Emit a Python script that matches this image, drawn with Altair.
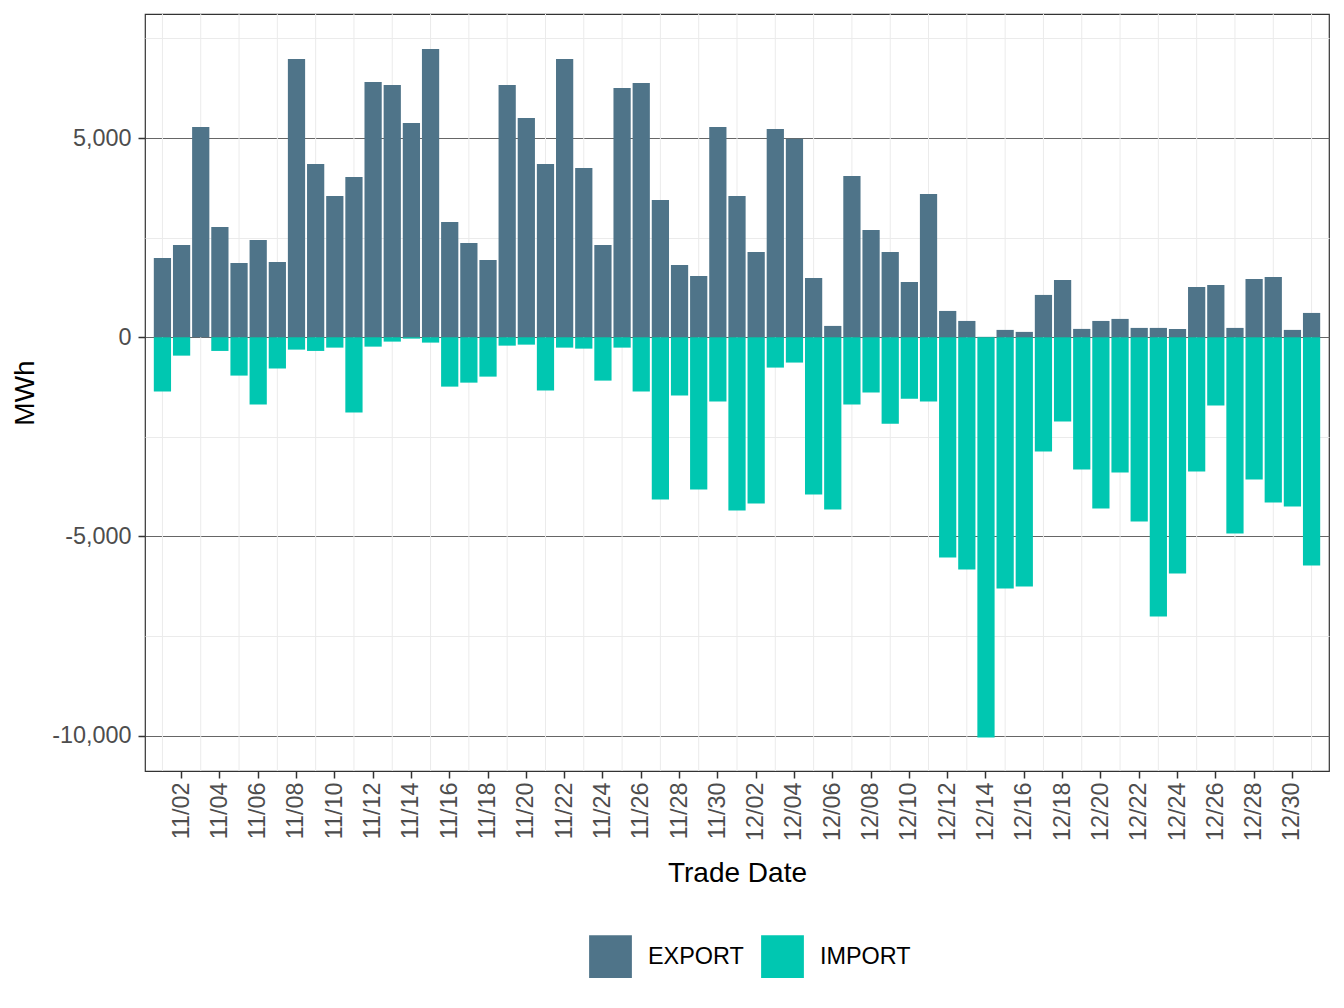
import altair as alt
import pandas as pd

dates = ["11/01", "11/02", "11/03", "11/04", "11/05", "11/06", "11/07", "11/08", "11/09", "11/10",
         "11/11", "11/12", "11/13", "11/14", "11/15", "11/16", "11/17", "11/18", "11/19", "11/20",
         "11/21", "11/22", "11/23", "11/24", "11/25", "11/26", "11/27", "11/28", "11/29", "11/30",
         "12/01", "12/02", "12/03", "12/04", "12/05", "12/06", "12/07", "12/08", "12/09", "12/10",
         "12/11", "12/12", "12/13", "12/14", "12/15", "12/16", "12/17", "12/18", "12/19", "12/20",
         "12/21", "12/22", "12/23", "12/24", "12/25", "12/26", "12/27", "12/28", "12/29", "12/30",
         "12/31"]

export_mwh = [1990, 2317, 5279, 2769, 1865, 2442, 1890, 6985, 4350, 3547,
              4024, 6408, 6333, 5379, 7236, 2894, 2367, 1940, 6333, 5504,
              4350, 6985, 4249, 2317, 6258, 6383, 3446, 1815, 1539, 5279,
              3547, 2141, 5228, 4985, 1488, 284, 4049, 2693, 2141, 1388,
              3597, 660, 409, 10, 184, 134, 1062, 1439, 209, 409,
              460, 234, 234, 209, 1263, 1313, 234, 1464, 1514, 184,
              610]

import_mwh = [-1365, -462, 0, -344, -963, -1691, -788, -311, -344, -261,
              -1892, -236, -110, -35, -135, -1240, -1140, -989, -211, -186,
              -1340, -261, -286, -1089, -261, -1365, -4074, -1464, -3824, -1615,
              -4351, -4175, -762, -636, -3949, -4326, -1690, -1389, -2169, -1545,
              -1615, -5530, -5831, -10048, -6308, -6258, -2870, -2117, -3321, -4300,
              -3397, -4627, -7011, -5932, -3372, -1715, -4928, -3573, -4150, -4250,
              -5731]

tick_labels = dates[1::2]
grid_values = [-10000, -7500, -5000, -2500, 0, 2500, 5000, 7500]

rows = []
for d, e, i in zip(dates, export_mwh, import_mwh):
    rows.append({"date": d, "type": "EXPORT", "value": e})
    rows.append({"date": d, "type": "IMPORT", "value": i})
df = pd.DataFrame(rows)
dates_df = pd.DataFrame({"date": dates})

font = "Liberation Sans"
tick_fs = 23.4

xscale = alt.Scale(domain=dates, paddingInner=0.1, paddingOuter=0.46)

vgrid = alt.Chart(dates_df).transform_filter(
    "toNumber(substring(datum.date, 3, 5)) % 2 == 1"
).mark_rule(color="#ebebeb", strokeWidth=1).encode(
    x=alt.X("date:N", scale=xscale, sort=dates)
)

bars = alt.Chart(df).mark_bar(opacity=1).encode(
    x=alt.X("date:N", scale=xscale, sort=dates,
            axis=alt.Axis(values=tick_labels, title="Trade Date", labelAngle=270,
                          labelFontSize=tick_fs, labelColor="#4d4d4d", labelFont=font,
                          titleFontSize=28, titleFont=font, titleColor="#000000",
                          titleFontWeight="normal", titlePadding=19,
                          tickSize=7, tickColor="#333333", tickWidth=1.5,
                          labelPadding=4, domain=False, grid=False)),
    y=alt.Y("value:Q", stack=None,
            scale=alt.Scale(domain=[-10890, 8115], nice=False, zero=False),
            axis=alt.Axis(values=grid_values, title="MWh",
                          labelExpr="datum.value % 5000 == 0 ? (datum.value < 0 ? '-' : '') + format(abs(datum.value), ',') : ''",
                          labelFontSize=tick_fs, labelColor="#4d4d4d", labelFont=font,
                          titleFontSize=28, titleFont=font, titleColor="#000000",
                          titleFontWeight="normal", titlePadding=12,
                          tickSize=7, tickColor="#333333", tickWidth=1.5,
                          tickOpacity=alt.condition("datum.value % 5000 == 0", alt.value(1), alt.value(0)),
                          gridColor=alt.condition("datum.value % 5000 == 0", alt.value("#666666"), alt.value("#ebebeb")),
                          gridWidth=1, labelPadding=7, domain=False, grid=True)),
    color=alt.Color("type:N",
                    scale=alt.Scale(domain=["EXPORT", "IMPORT"], range=["#4f7489", "#00c7b1"]),
                    legend=alt.Legend(title=None, orient="none", direction="horizontal",
                                      legendX=444, legendY=921,
                                      symbolType="square", symbolSize=1830,
                                      symbolStrokeWidth=0, labelFontSize=tick_fs, labelFont=font,
                                      labelColor="#000000", labelOffset=16, columnPadding=17))
)

chart = alt.layer(vgrid, bars).properties(
    width=1184, height=757,
    autosize=alt.AutoSizeParams(type="none"),
    padding={"left": 137, "top": 6, "right": 7, "bottom": 229},
).configure(background="white").configure_view(stroke="#333333", strokeWidth=1.2)

chart.save("out.html", embed_options={"renderer": "svg", "actions": False})
